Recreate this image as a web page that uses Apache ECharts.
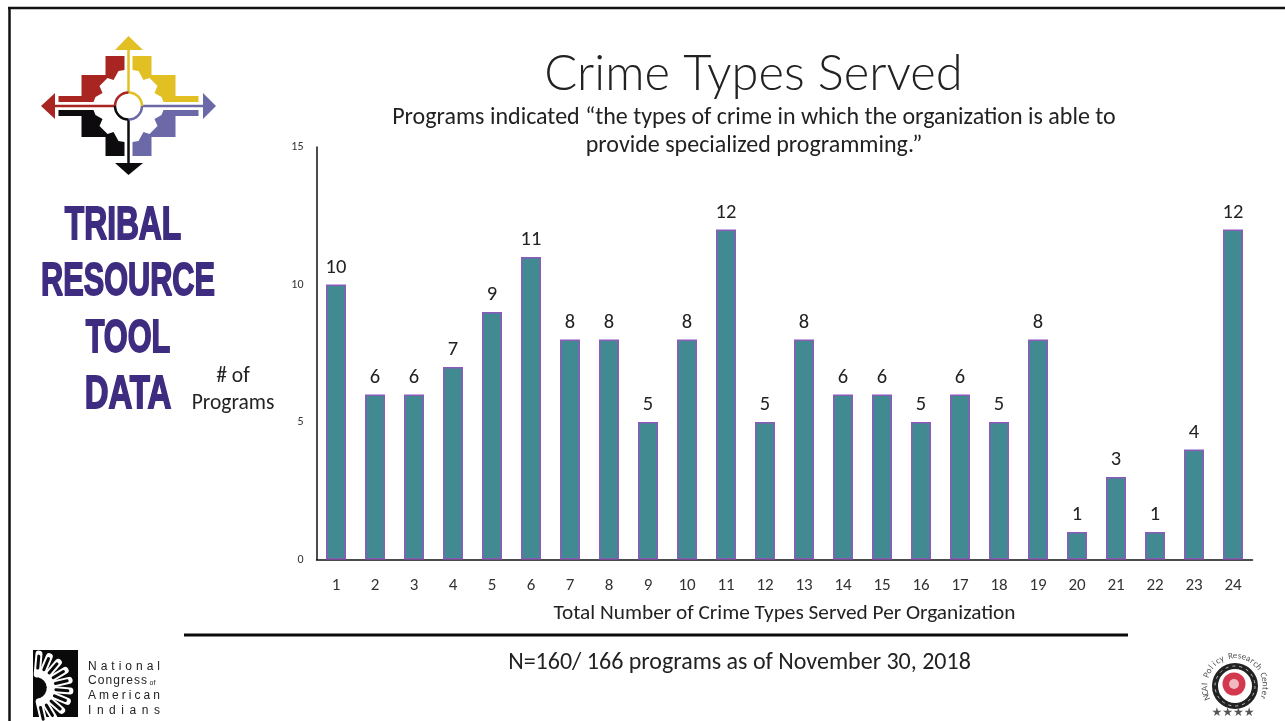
<!DOCTYPE html>
<html>
<head>
<meta charset="utf-8">
<title>Crime Types Served</title>
<script src="https://cdn.jsdelivr.net/npm/echarts@6/dist/echarts.min.js"></script>
<style>
html,body{margin:0;padding:0;background:#fff;}
#chart{width:1285px;height:721px;}
</style>
</head>
<body>
<div id="chart"></div>
<script>
var categories=['1','2','3','4','5','6','7','8','9','10','11','12','13','14','15','16','17','18','19','20','21','22','23','24'];
var programs=[10,6,6,7,9,11,8,8,5,8,12,5,8,6,6,5,6,5,8,1,3,1,4,12];
var logoWords=['TRIBAL','RESOURCE','TOOL','DATA'];
var ncaiWords=['National','Congress','American','Indians'];
var centerName='NCAI Policy Research Center';

var FONT='Carlito, Lato, "Open Sans", sans-serif';
var PURPLE='#3e2c80';
var YELLOW='#e2c024',RED='#a92522',BLACK='#0d0b0d',SLATE='#6c69a8';

// 四色箭头标志，以中心点镜像
function quadrant(sx,sy,color){
    var cx=128.5,cy=106;
    var stair=[[4,-50],[23,-50],[23,-31],[47,-31],[47,-10],[70,-10],[70,-4],[35,-4],[33,-9],[26,-13],[29,-20],[21,-28],[15,-26],[10,-35],[4,-36]];
    return {
        type:'polygon',
        shape:{points:stair.map(function(p){return [cx+sx*p[0],cy-sy*p[1]];})},
        style:{fill:color},
        silent:true
    };
}
function arcPart(a0,a1,color){
    return {type:'arc',shape:{cx:128.5,cy:106,r:13.5,startAngle:a0,endAngle:a1,clockwise:true},style:{fill:'none',stroke:color,lineWidth:2.5}};
}
function logoGraphic(){
    var cx=128.5,cy=106;
    var g=[
        {type:'line',shape:{x1:8,y1:8,x2:1285,y2:8},style:{stroke:'#111',lineWidth:2.5}},
        {type:'line',shape:{x1:9.5,y1:8,x2:9.5,y2:721},style:{stroke:'#111',lineWidth:2.5}},
        quadrant(1,-1,YELLOW),
        quadrant(-1,-1,RED),
        quadrant(-1,1,BLACK),
        quadrant(1,1,SLATE),
        // 四个箭头
        {type:'line',shape:{x1:cx,y1:50,x2:cx,y2:cy},style:{stroke:YELLOW,lineWidth:2.5}},
        {type:'polygon',shape:{points:[[cx,36],[143,50],[115,50]]},style:{fill:YELLOW}},
        {type:'line',shape:{x1:cx,y1:cy,x2:cx,y2:163},style:{stroke:BLACK,lineWidth:2.5}},
        {type:'polygon',shape:{points:[[cx,175],[143,163],[115,163]]},style:{fill:BLACK}},
        {type:'line',shape:{x1:55,y1:cy,x2:cx,y2:cy},style:{stroke:RED,lineWidth:2.5}},
        {type:'polygon',shape:{points:[[41,106],[55,93],[55,119]]},style:{fill:RED}},
        {type:'line',shape:{x1:cx,y1:cy,x2:203,y2:cy},style:{stroke:SLATE,lineWidth:2.5}},
        {type:'polygon',shape:{points:[[216,106],[203,93],[203,119]]},style:{fill:SLATE}},
        {type:'circle',shape:{cx:cx,cy:cy,r:13.5},style:{fill:'#fff'}},
        arcPart(-Math.PI/2,0,YELLOW),
        arcPart(0,Math.PI/2,SLATE),
        arcPart(Math.PI/2,Math.PI,BLACK),
        arcPart(Math.PI,Math.PI*1.5,RED)
    ];
    var wordX=[123,128,128,128];
    var wordY=[226,282,339,395];
    var wordScale=[0.69,0.667,0.667,0.717];
    for(var i=0;i<logoWords.length;i++){
        g.push({type:'text',x:wordX[i],y:wordY[i],scaleX:wordScale[i],silent:true,style:{
            text:logoWords[i],fill:PURPLE,stroke:PURPLE,lineWidth:1.8,align:'center',verticalAlign:'middle',
            font:'bold 46px "Liberation Sans", sans-serif'
        }});
    }
    return g;
}
function ncaiGraphic(){
    var g=[
        {type:'rect',shape:{x:33,y:650,width:45,height:67},style:{fill:'#0a0a0a'}}
    ];
    // 羽冠
    for(var a=0;a<10;a++){
        var t=(-85+a*18)*Math.PI/180;
        var c=Math.cos(t),s=Math.sin(t);
        g.push({type:'line',shape:{x1:36+14*c,y1:688+14*s,x2:36+34*c,y2:688+34*s},style:{stroke:'#fff',lineWidth:7,lineCap:'round'}});
        g.push({type:'line',shape:{x1:36+20*c,y1:688+20*s,x2:36+32*c,y2:688+32*s},style:{stroke:'#0a0a0a',lineWidth:3,lineCap:'round'}});
    }
    var y=[667,681,696,711];
    var xEnd=[160,147,160,160];
    var font='12px "Liberation Sans", sans-serif';
    var ctx=document.createElement('canvas').getContext('2d');
    ctx.font=font;
    for(var i=0;i<ncaiWords.length;i++){
        var w=ncaiWords[i];
        var gap=(xEnd[i]-88-ctx.measureText(w).width)/(w.length-1);
        var px=88;
        for(var j=0;j<w.length;j++){
            g.push({type:'text',x:px,y:y[i],style:{text:w[j],fill:'#222',verticalAlign:'middle',font:font}});
            px+=ctx.measureText(w[j]).width+gap;
        }
    }
    g.push({type:'text',x:149.5,y:683,style:{text:'of',fill:'#222',verticalAlign:'middle',font:'7px "Liberation Sans", sans-serif'}});
    // 右下角研究中心标志
    var lx=1235,ly=686;
    g.push({type:'circle',shape:{cx:lx,cy:ly,r:20},style:{fill:'#fff',stroke:'#222',lineWidth:6}});
    g.push({type:'circle',shape:{cx:lx,cy:ly,r:20},style:{fill:'none',stroke:'#bbb',lineWidth:1,lineDash:[3,4]}});
    g.push({type:'circle',shape:{cx:lx-1,cy:ly-2,r:11.5},style:{fill:'#d4384f'}});
    g.push({type:'circle',shape:{cx:lx-1,cy:ly-2,r:5},style:{fill:'#f0b8c0'}});
    var n=centerName.length;
    for(var k=0;k<n;k++){
        var ang=(-112+k*224/(n-1))*Math.PI/180;
        g.push({type:'text',x:lx+30*Math.sin(ang),y:ly-30*Math.cos(ang),rotation:-ang,style:{text:centerName[k],fill:'#555',align:'center',verticalAlign:'middle',font:'9px '+FONT}});
    }
    g.push({type:'text',x:1233,y:713,style:{text:'\u2605\u2605\u2605\u2605',fill:'#555',align:'center',verticalAlign:'middle',font:'12px "DejaVu Sans", sans-serif'}});
    return g;
}

var myChart=echarts.init(document.getElementById('chart'));
var option={
    animation:false,
    backgroundColor:'#fff',
    textStyle:{fontFamily:FONT},
    title:[
        {text:'Crime Types Served',left:748.5,top:45,textAlign:'center',textStyle:{fontSize:48.8,fontWeight:300,color:'#222',fontFamily:'Lato, sans-serif'}},
        {text:'Programs indicated \u201cthe types of crime in which the organization is able to\nprovide specialized programming.\u201d',left:749,top:99,textAlign:'center',textStyle:{fontSize:24,fontWeight:400,color:'#222',lineHeight:28,fontFamily:FONT}}
    ],
    grid:{left:316.5,top:147,width:936,height:412.5,containLabel:false},
    xAxis:{
        type:'category',
        data:categories,
        name:'Total Number of Crime Types Served Per Organization',
        nameLocation:'middle',
        nameGap:44,
        nameTextStyle:{fontSize:21.3,color:'#222'},
        axisTick:{show:false},
        axisLine:{lineStyle:{color:'#111',width:1.5}},
        axisLabel:{fontSize:17,color:'#333',margin:18}
    },
    yAxis:{
        type:'value',
        min:0,
        max:15,
        interval:5,
        splitLine:{show:false},
        axisTick:{show:false},
        axisLine:{show:true,lineStyle:{color:'#111',width:1.5}},
        axisLabel:{fontSize:12,color:'#333',margin:13}
    },
    series:[{
        type:'bar',
        data:programs,
        barWidth:20,
        itemStyle:{color:'#428a91',borderColor:'#8a5bbb',borderWidth:1.5},
        label:{show:true,position:'top',distance:6.5,fontSize:20.5,color:'#222'}
    }],
    graphic:logoGraphic().concat(ncaiGraphic()).concat([
        {type:'text',x:233,y:390,style:{text:'# of\nPrograms',fill:'#222',align:'center',verticalAlign:'middle',lineHeight:27,font:'21.5px '+FONT}},
        {type:'rect',shape:{x:184,y:633.5,width:944,height:3},style:{fill:'#0a0a0a'}},
        {type:'text',x:739.5,y:662.5,style:{text:'N=160/ 166 programs as of November 30, 2018',fill:'#222',align:'center',verticalAlign:'middle',font:'24px '+FONT}}
    ])
};
myChart.setOption(option);
</script>
</body>
</html>
